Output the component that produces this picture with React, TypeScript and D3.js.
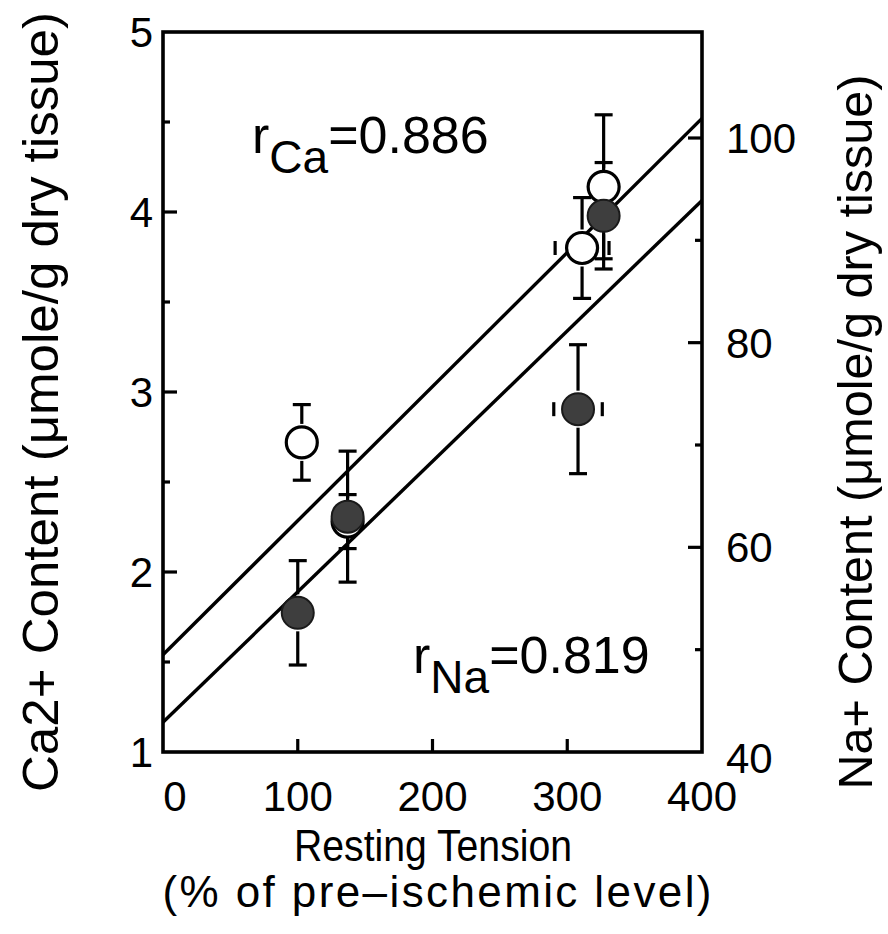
import React from "react";
import * as d3 from "d3";

// ---- data ----
const caTension = [103, 137, 311, 327];
const caTensionErr = [0, 0, 20, 0];
const caMean = [2.72, 2.28, 3.8, 4.14];
const caErr = [0.21, 0.15, 0.28, 0.4];

const naTension = [100, 137, 308, 327];
const naTensionErr = [0, 0, 18, 0];
const naMean = [53.6, 63.0, 73.5, 92.4];
const naErr = [5.1, 6.4, 6.3, 5.2];

const caFitX = [0, 400];
const caFitY = [1.54, 4.52];
const naFitX = [0, 400];
const naFitY = [42.9, 93.9];

const xTicks = [0, 100, 200, 300, 400];
const caTicks = [1, 2, 3, 4, 5];
const caMinorTicks = [1.5, 2.5, 3.5, 4.5];
const naTicks = [40, 60, 80, 100];
const naMinorTicks = [50, 70, 90];

const W = 888;
const H = 934;
const FONT = "'Liberation Sans', Arial, sans-serif";

export default function App() {
  const left = 163, right = 702, top = 32, bottom = 752;
  const x = d3.scaleLinear().domain([0, 400]).range([left, right]);
  const yCa = d3.scaleLinear().domain([1, 5]).range([bottom, top]);
  const yNa = d3.scaleLinear().domain([40, 100]).range([bottom, 138]);
  const R = 15.5;
  const cap = 9;
  const sw = 3.2;
  const line = d3.line<[number, number]>().x(d => d[0]).y(d => d[1]);

  const errBars = (
    tx: number[], txe: number[], m: number[], e: number[], ys: d3.ScaleLinear<number, number>
  ) =>
    tx.map((t, i) => {
      const cx = x(t), cy = ys(m[i]);
      const yt = ys(m[i] + e[i]), yb = ys(m[i] - e[i]);
      const parts: React.ReactNode[] = [];
      if (cy - yt > R + 3) parts.push(<line key="a" x1={cx} x2={cx} y1={yt} y2={cy - R - 3} />);
      if (yb - cy > R + 3) parts.push(<line key="b" x1={cx} x2={cx} y1={cy + R + 3} y2={yb} />);
      parts.push(<line key="c" x1={cx - cap} x2={cx + cap} y1={yt} y2={yt} />);
      parts.push(<line key="d" x1={cx - cap} x2={cx + cap} y1={yb} y2={yb} />);
      if (txe[i] > 0) {
        const xl = x(t - txe[i]), xr = x(t + txe[i]);
        parts.push(<line key="e" x1={xl} x2={xl} y1={cy - 7} y2={cy + 7} />);
        parts.push(<line key="f" x1={xr} x2={xr} y1={cy - 7} y2={cy + 7} />);
      }
      return <g key={i}>{parts}</g>;
    });

  return (
    <svg width={W} height={H} style={{ display: "block", position: "absolute", left: 0, top: 0, background: "#fff" }}>
      <rect width={W} height={H} fill="#fff" />
      {/* fit lines */}
      <path d={line(caFitX.map((v, i) => [x(v), yCa(caFitY[i])]))!} stroke="#000" strokeWidth={3.4} fill="none" />
      <path d={line(naFitX.map((v, i) => [x(v), yNa(naFitY[i])]))!} stroke="#000" strokeWidth={3.4} fill="none" />

      {/* error bars */}
      <g stroke="#000" strokeWidth={sw}>
        {errBars(caTension, caTensionErr, caMean, caErr, yCa)}
        {errBars(naTension, naTensionErr, naMean, naErr, yNa)}
      </g>

      {/* points */}
      {caTension.map((t, i) => (
        <circle key={"c" + i} cx={x(t)} cy={yCa(caMean[i])} r={R} fill="#fff" stroke="#000" strokeWidth={3.2} />
      ))}
      {naTension.map((t, i) => (
        <circle key={"n" + i} cx={x(t)} cy={yNa(naMean[i])} r={R + 0.5} fill="#3e3e3e" stroke="#1a1a1a" strokeWidth={2} />
      ))}

      {/* frame */}
      <rect x={left} y={top} width={right - left} height={bottom - top} fill="none" stroke="#000" strokeWidth={3.6} />

      {/* ticks */}
      <g stroke="#000" strokeWidth={3.2}>
        {xTicks.slice(1, -1).map(t => (
          <line key={"xt" + t} x1={x(t)} x2={x(t)} y1={bottom} y2={bottom - 13} />
        ))}
        {caTicks.slice(1, -1).map(t => (
          <line key={"ct" + t} x1={left} x2={left + 14} y1={yCa(t)} y2={yCa(t)} />
        ))}
        {caMinorTicks.map(t => (
          <line key={"cm" + t} x1={left} x2={left + 7} y1={yCa(t)} y2={yCa(t)} />
        ))}
        {naTicks.slice(1).map(t => (
          <line key={"nt" + t} x1={right} x2={right - 14} y1={yNa(t)} y2={yNa(t)} />
        ))}
        {naMinorTicks.map(t => (
          <line key={"nm" + t} x1={right} x2={right - 7} y1={yNa(t)} y2={yNa(t)} />
        ))}
      </g>

      {/* tick labels */}
      <g fontFamily={FONT} fontSize={42} fill="#000">
        {xTicks.map((t, i) => (
          <text key={"xl" + t} x={x(t) + (i === 0 ? 12 : 0)} y={811} textAnchor="middle">{t}</text>
        ))}
        {caTicks.map(t => (
          <text key={"cl" + t} x={153} y={yCa(t) + 15} textAnchor="end">{t}</text>
        ))}
        {naTicks.map(t => (
          <text key={"nl" + t} x={726} y={yNa(t) + 15 + (t === 40 ? 6 : 0)} textAnchor="start">{t}</text>
        ))}
      </g>

      {/* axis titles */}
      <g fontFamily={FONT} fill="#000">
        <text x={433} y={861} textAnchor="middle" fontSize={44} textLength={278} lengthAdjust="spacingAndGlyphs">
          Resting Tension
        </text>
        <text x={437} y={907} textAnchor="middle" fontSize={44} textLength={549} lengthAdjust="spacing">
          (% of pre–ischemic level)
        </text>
        <text transform="translate(58,402) rotate(-90)" textAnchor="middle" fontSize={50} textLength={780} lengthAdjust="spacingAndGlyphs">
          Ca2+ Content (μmole/g dry tissue)
        </text>
        <text transform="translate(872,432) rotate(-90)" textAnchor="middle" fontSize={48} textLength={715} lengthAdjust="spacingAndGlyphs">
          Na+ Content (μmole/g dry tissue)
        </text>
      </g>

      {/* correlation annotations */}
      <g fontFamily={FONT} fill="#000" fontSize={52}>
        <text x={252} y={153}>
          r<tspan dy={20} fontSize={46}>Ca</tspan><tspan dy={-20}>=0.886</tspan>
        </text>
        <text x={413} y={673}>
          r<tspan dy={20} fontSize={46}>Na</tspan><tspan dy={-20}>=0.819</tspan>
        </text>
      </g>
    </svg>
  );
}
